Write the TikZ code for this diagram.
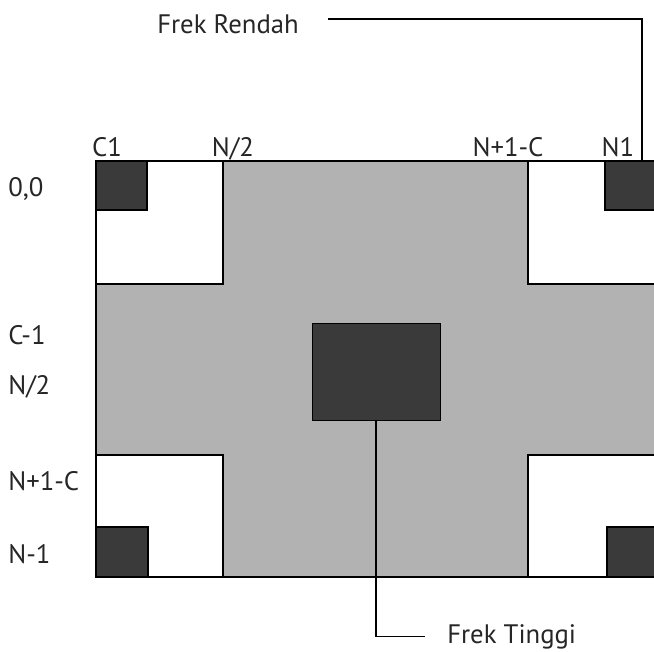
\documentclass[tikz,border=0pt]{standalone}
\usepackage{fontspec}
\setmainfont{PT Sans}
\usetikzlibrary{positioning}
\definecolor{abuMedan}{HTML}{B2B2B2}
\definecolor{abuGelap}{HTML}{3A3A3A}
\tikzset{
  sisiBlok/.style={draw=black, line width=1.3pt},
  blokGelap/.style={fill=abuGelap, draw=black, line width=0.6pt, inner sep=0pt},
  teksSumbu/.style={inner sep=0pt, text=black!85},
  garisTunjuk/.style={line width=1pt, black},
}

\begin{document}
\begin{tikzpicture}[x=0.025cm, y=-0.025cm, font=\fontsize{19}{22}\selectfont]
    \useasboundingbox (0,0) rectangle (654,652);

    % bidang frekuensi
    \fill[abuMedan] (96,161) rectangle (654,577);
    \fill[white] (96,161) rectangle (223,284);
    \fill[white] (528,161) rectangle (654,284);
    \fill[white] (96,455) rectangle (223,577);
    \fill[white] (528,455) rectangle (654,577);
    \draw[sisiBlok] (96,284) -- (223,284) -- (223,161);
    \draw[sisiBlok] (654,284) -- (528,284) -- (528,161);
    \draw[sisiBlok] (96,455) -- (223,455) -- (223,577);
    \draw[sisiBlok] (654,455) -- (528,455) -- (528,577);
    \fill[abuGelap] (96,161) rectangle (147,210);
    \fill[abuGelap] (605,161) rectangle (654,210);
    \fill[abuGelap] (96,527) rectangle (148,577);
    \fill[abuGelap] (607,527) rectangle (654,577);
    \draw[sisiBlok] (147,161) -- (147,210) -- (96,210);
    \draw[sisiBlok] (654,210) -- (605,210) -- (605,161);
    \draw[sisiBlok] (96,527) -- (148,527) -- (148,577);
    \draw[sisiBlok] (654,527) -- (607,527) -- (607,577);
    \draw[sisiBlok] (654,161) -- (96,161) -- (96,577) -- (654,577);

    \node[blokGelap, minimum width=3.2cm, minimum height=2.425cm] (tinggi) at (376,371.5) {};
    \coordinate (rendahUjung) at (642,161);

    % indeks sumbu
    \node[teksSumbu, anchor=base] (c1) at (107,156) {C1};
    \node[teksSumbu, anchor=base] (kolTengah) at (233,156) {N/2};
    \node[teksSumbu, anchor=base] (kolC) at (508,156) {N+1-C};
    \node[teksSumbu, anchor=base] (kolN1) at (618,156) {N1};
    \node[teksSumbu, anchor=base west] (asal) at (8,196) {0,0};
    \node[teksSumbu, anchor=base west] (barC) at (8,344) {C-1};
    \node[teksSumbu, anchor=base west] (barTengah) at (8,394) {N/2};
    \node[teksSumbu, anchor=base west] (barNC) at (8,490) {N+1-C};
    \node[teksSumbu, anchor=base west] (barN1) at (8,563) {N-1};

    \node[teksSumbu, anchor=base west] (rendah) at (157,33) {Frek Rendah};
    \node[teksSumbu, anchor=base west] (teksTinggi) at (447,643) {Frek Tinggi};

    \draw[garisTunjuk] (rendah.east |- 0,19) ++(29,0) -| (rendahUjung);
    \draw[garisTunjuk] (tinggi.south) |- ([xshift=-0.55cm]teksTinggi.west);
  \end{tikzpicture}
\end{document}
